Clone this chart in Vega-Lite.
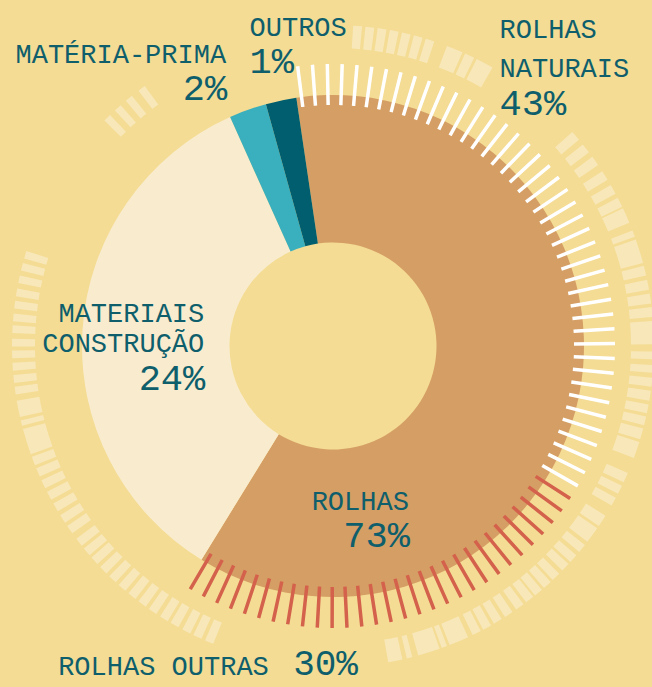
{
"$schema":"https://vega.github.io/schema/vega-lite/v6.json",
"width":638,"height":682,
"autosize":{"type":"none"},
"padding":{"left":14,"top":5,"right":0,"bottom":0},
"background":"#F4DC94",
"config":{"view":{"stroke":null},"text":{"font":"Liberation Mono","color":"#0E5E6C","baseline":"alphabetic"}},
"datasets":{
"fatias":[
{"grupo":"Rolhas","rotulo":"ROLHAS","quota":0.73},
{"grupo":"Materiais construção","rotulo":"MATERIAIS\nCONSTRUÇÃO","quota":0.24},
{"grupo":"Matéria-prima","rotulo":"MATÉRIA-PRIMA","quota":0.02},
{"grupo":"Outros","rotulo":"OUTROS","quota":0.01}
],
"rolhas":[
{"grupo":"Rolhas naturais","rotulo":"ROLHAS\nNATURAIS","quota":0.43},
{"grupo":"Rolhas outras","rotulo":"ROLHAS OUTRAS","quota":0.30}
],
"marcas":[
{"ponto":1,"tipo":"Rolhas naturais"},{"ponto":2,"tipo":"Rolhas naturais"},{"ponto":3,"tipo":"Rolhas naturais"},{"ponto":4,"tipo":"Rolhas naturais"},{"ponto":5,"tipo":"Rolhas naturais"},{"ponto":6,"tipo":"Rolhas naturais"},{"ponto":7,"tipo":"Rolhas naturais"},{"ponto":8,"tipo":"Rolhas naturais"},{"ponto":9,"tipo":"Rolhas naturais"},{"ponto":10,"tipo":"Rolhas naturais"},
{"ponto":11,"tipo":"Rolhas naturais"},{"ponto":12,"tipo":"Rolhas naturais"},{"ponto":13,"tipo":"Rolhas naturais"},{"ponto":14,"tipo":"Rolhas naturais"},{"ponto":15,"tipo":"Rolhas naturais"},{"ponto":16,"tipo":"Rolhas naturais"},{"ponto":17,"tipo":"Rolhas naturais"},{"ponto":18,"tipo":"Rolhas naturais"},{"ponto":19,"tipo":"Rolhas naturais"},{"ponto":20,"tipo":"Rolhas naturais"},
{"ponto":21,"tipo":"Rolhas naturais"},{"ponto":22,"tipo":"Rolhas naturais"},{"ponto":23,"tipo":"Rolhas naturais"},{"ponto":24,"tipo":"Rolhas naturais"},{"ponto":25,"tipo":"Rolhas naturais"},{"ponto":26,"tipo":"Rolhas naturais"},{"ponto":27,"tipo":"Rolhas naturais"},{"ponto":28,"tipo":"Rolhas naturais"},{"ponto":29,"tipo":"Rolhas naturais"},{"ponto":30,"tipo":"Rolhas naturais"},
{"ponto":31,"tipo":"Rolhas naturais"},{"ponto":32,"tipo":"Rolhas naturais"},{"ponto":33,"tipo":"Rolhas naturais"},{"ponto":34,"tipo":"Rolhas naturais"},{"ponto":35,"tipo":"Rolhas naturais"},{"ponto":36,"tipo":"Rolhas naturais"},{"ponto":37,"tipo":"Rolhas naturais"},{"ponto":38,"tipo":"Rolhas naturais"},{"ponto":39,"tipo":"Rolhas naturais"},{"ponto":40,"tipo":"Rolhas naturais"},
{"ponto":41,"tipo":"Rolhas naturais"},{"ponto":42,"tipo":"Rolhas naturais"},{"ponto":43,"tipo":"Rolhas naturais"},
{"ponto":44,"tipo":"Rolhas outras"},{"ponto":45,"tipo":"Rolhas outras"},{"ponto":46,"tipo":"Rolhas outras"},{"ponto":47,"tipo":"Rolhas outras"},{"ponto":48,"tipo":"Rolhas outras"},{"ponto":49,"tipo":"Rolhas outras"},{"ponto":50,"tipo":"Rolhas outras"},
{"ponto":51,"tipo":"Rolhas outras"},{"ponto":52,"tipo":"Rolhas outras"},{"ponto":53,"tipo":"Rolhas outras"},{"ponto":54,"tipo":"Rolhas outras"},{"ponto":55,"tipo":"Rolhas outras"},{"ponto":56,"tipo":"Rolhas outras"},{"ponto":57,"tipo":"Rolhas outras"},{"ponto":58,"tipo":"Rolhas outras"},{"ponto":59,"tipo":"Rolhas outras"},{"ponto":60,"tipo":"Rolhas outras"},
{"ponto":61,"tipo":"Rolhas outras"},{"ponto":62,"tipo":"Rolhas outras"},{"ponto":63,"tipo":"Rolhas outras"},{"ponto":64,"tipo":"Rolhas outras"},{"ponto":65,"tipo":"Rolhas outras"},{"ponto":66,"tipo":"Rolhas outras"},{"ponto":67,"tipo":"Rolhas outras"},{"ponto":68,"tipo":"Rolhas outras"},{"ponto":69,"tipo":"Rolhas outras"},{"ponto":70,"tipo":"Rolhas outras"},
{"ponto":71,"tipo":"Rolhas outras"},{"ponto":72,"tipo":"Rolhas outras"},{"ponto":73,"tipo":"Rolhas outras"}
],
"anel":[
{"ini":3.6,"fim":5.2},{"ini":5.8,"fim":7.4},{"ini":8.0,"fim":9.6},{"ini":10.2,"fim":11.8},{"ini":12.4,"fim":14.0},{"ini":14.6,"fim":16.2},{"ini":16.8,"fim":18.4},
{"ini":20.8,"fim":23.8},{"ini":24.3,"fim":26.1},{"ini":26.6,"fim":29.8},
{"ini":48.2,"fim":50.0},{"ini":51.1,"fim":52.9},{"ini":53.9,"fim":55.7},{"ini":57.0,"fim":58.8},{"ini":59.9,"fim":61.7},{"ini":62.5,"fim":64.3},{"ini":64.6,"fim":67.4},{"ini":68.9,"fim":70.1},{"ini":70.6,"fim":75.0},
{"ini":75.5,"fim":77.3},{"ini":78.1,"fim":79.9},{"ini":80.6,"fim":82.4},{"ini":83.0,"fim":84.8},{"ini":85.5,"fim":89.7},{"ini":91.0,"fim":92.4},{"ini":93.4,"fim":94.8},{"ini":95.7,"fim":97.3},{"ini":98.0,"fim":99.8},
{"ini":100.5,"fim":102.1},{"ini":102.7,"fim":104.3},{"ini":104.9,"fim":106.9},{"ini":107.4,"fim":110.4},{"ini":113.3,"fim":115.1},{"ini":115.8,"fim":117.4},{"ini":118.2,"fim":119.8},
{"ini":121.9,"fim":124.1},{"ini":124.6,"fim":127.6},{"ini":128.3,"fim":129.9},{"ini":130.7,"fim":132.3},{"ini":132.8,"fim":134.4},{"ini":135.2,"fim":136.8},{"ini":137.3,"fim":138.9},{"ini":139.4,"fim":141.0},
{"ini":141.4,"fim":143.0},{"ini":143.6,"fim":145.2},{"ini":146.0,"fim":147.6},{"ini":148.3,"fim":149.9},{"ini":150.5,"fim":152.1},{"ini":152.6,"fim":154.2},{"ini":155.1,"fim":158.7},{"ini":159.2,"fim":160.2},
{"ini":160.6,"fim":164.6},{"ini":165.7,"fim":166.7},{"ini":167.5,"fim":170.1},
{"ini":201.9,"fim":203.5},{"ini":204.2,"fim":205.8},{"ini":206.4,"fim":208.0},{"ini":208.8,"fim":210.4},{"ini":211.0,"fim":212.6},{"ini":213.4,"fim":215.0},{"ini":215.7,"fim":217.3},{"ini":218.0,"fim":219.6},
{"ini":220.3,"fim":221.9},{"ini":222.6,"fim":224.2},{"ini":224.9,"fim":226.5},{"ini":227.2,"fim":228.8},{"ini":229.3,"fim":230.9},{"ini":231.5,"fim":233.1},{"ini":234.3,"fim":235.9},{"ini":236.6,"fim":238.2},
{"ini":239.0,"fim":240.6},{"ini":241.4,"fim":243.0},{"ini":243.7,"fim":245.3},{"ini":246.0,"fim":247.6},{"ini":248.2,"fim":249.8},{"ini":250.3,"fim":255.0},{"ini":255.6,"fim":256.6},{"ini":257.2,"fim":260.2},
{"ini":261.3,"fim":262.7},{"ini":263.4,"fim":264.8},{"ini":265.6,"fim":267.0},{"ini":267.8,"fim":269.2},{"ini":269.9,"fim":271.3},{"ini":272.3,"fim":273.7},{"ini":274.4,"fim":275.8},{"ini":276.7,"fim":278.1},
{"ini":278.9,"fim":280.3},{"ini":281.3,"fim":282.7},{"ini":283.6,"fim":285.0},{"ini":285.8,"fim":287.2},
{"ini":314.6,"fim":316.0},{"ini":317.2,"fim":318.6},{"ini":319.8,"fim":321.2},{"ini":322.7,"fim":324.1}
]
},
"resolve":{"scale":{"theta":"independent"}},
"layer":[
{"data":{"name":"anel"},
 "mark":{"type":"arc","radius":321,"radius2":298,"color":"#F8E7B8"},
 "encoding":{"theta":{"field":"ini","type":"quantitative","stack":null,"scale":{"type":"linear","domain":[0,360],"range":[0,6.283185307],"zero":false,"nice":false}},"theta2":{"field":"fim"}}},
{"data":{"name":"fatias"},
 "mark":{"type":"arc","radius":251,"radius2":103.5},
 "encoding":{"theta":{"field":"quota","type":"quantitative","stack":true,"scale":{"type":"linear","domain":[0,0.73,0.97,0.99,1],"range":[-0.14661,3.69312,5.8608,6.01264,6.13656],"zero":false,"nice":false}},
  "order":{"field":"quota","sort":"descending"},
  "fill":{"field":"grupo","type":"nominal","legend":null,"scale":{"domain":["Rolhas","Materiais construção","Matéria-prima","Outros"],"range":["#D59E64","#F9ECCE","#3AAFBD","#005E6E"]}}}},
{"data":{"name":"marcas"},
 "mark":{"type":"arc","radius":282,"radius2":241,"filled":false,"strokeWidth":3.5,"strokeCap":"butt"},
 "encoding":{"theta":{"field":"ponto","type":"quantitative","stack":null,"scale":{"type":"linear","domain":[1,73],"range":[-0.12566,3.67218],"zero":false,"nice":false}},"theta2":{"field":"ponto"},
  "stroke":{"field":"tipo","type":"nominal","legend":null,"scale":{"domain":["Rolhas naturais","Rolhas outras"],"range":["#FFFFFF","#D4614B"]}}}},
{"data":{"name":"fatias"},"mark":{"type":"text","align":"left","radius":316,"dx":-18,"dy":-1,"fontSize":27},
 "encoding":{"theta":{"field":"quota","type":"quantitative","stack":true,"scale":{"type":"linear","domain":[0,0.73,0.97,0.99,1],"range":[-0.14661,3.69312,5.8608,6.01264,6.13656],"zero":false,"nice":false}},"order":{"field":"quota","sort":"descending"},
  "text":{"field":"rotulo","type":"nominal","condition":{"test":"datum.grupo !== 'Outros'","value":""}}}},
{"data":{"name":"fatias"},"mark":{"type":"text","align":"left","radius":316,"dx":-18,"dy":36,"fontSize":37},
 "encoding":{"theta":{"field":"quota","type":"quantitative","stack":true,"scale":{"type":"linear","domain":[0,0.73,0.97,0.99,1],"range":[-0.14661,3.69312,5.8608,6.01264,6.13656],"zero":false,"nice":false}},"order":{"field":"quota","sort":"descending"},
  "text":{"field":"quota","type":"quantitative","format":".0%","condition":{"test":"datum.grupo !== 'Outros'","value":""}}}},
{"data":{"name":"fatias"},"mark":{"type":"text","align":"right","radius":300,"dx":-5,"dy":-1,"fontSize":27},
 "encoding":{"theta":{"field":"quota","type":"quantitative","stack":true,"scale":{"type":"linear","domain":[0,0.73,0.97,0.99,1],"range":[-0.14661,3.69312,5.8608,6.01264,6.13656],"zero":false,"nice":false}},"order":{"field":"quota","sort":"descending"},
  "text":{"field":"rotulo","type":"nominal","condition":{"test":"datum.grupo !== 'Matéria-prima'","value":""}}}},
{"data":{"name":"fatias"},"mark":{"type":"text","align":"right","radius":300,"dx":-4,"dy":36,"fontSize":37},
 "encoding":{"theta":{"field":"quota","type":"quantitative","stack":true,"scale":{"type":"linear","domain":[0,0.73,0.97,0.99,1],"range":[-0.14661,3.69312,5.8608,6.01264,6.13656],"zero":false,"nice":false}},"order":{"field":"quota","sort":"descending"},
  "text":{"field":"quota","type":"quantitative","format":".0%","condition":{"test":"datum.grupo !== 'Matéria-prima'","value":""}}}},
{"data":{"name":"fatias"},"mark":{"type":"text","align":"right","radius":129,"dx":0,"dy":-16,"fontSize":27,"lineBreak":"\n","lineHeight":30},
 "encoding":{"theta":{"field":"quota","type":"quantitative","stack":true,"scale":{"type":"linear","domain":[0,0.73,0.97,0.99,1],"range":[-0.14661,3.69312,5.8608,6.01264,6.13656],"zero":false,"nice":false}},"order":{"field":"quota","sort":"descending"},
  "text":{"field":"rotulo","type":"nominal","condition":{"test":"datum.grupo !== 'Materiais construção'","value":""}}}},
{"data":{"name":"fatias"},"mark":{"type":"text","align":"right","radius":129,"dx":1,"dy":52,"fontSize":37},
 "encoding":{"theta":{"field":"quota","type":"quantitative","stack":true,"scale":{"type":"linear","domain":[0,0.73,0.97,0.99,1],"range":[-0.14661,3.69312,5.8608,6.01264,6.13656],"zero":false,"nice":false}},"order":{"field":"quota","sort":"descending"},
  "text":{"field":"quota","type":"quantitative","format":".0%","condition":{"test":"datum.grupo !== 'Materiais construção'","value":""}}}},
{"data":{"name":"fatias"},"mark":{"type":"text","align":"right","radius":104,"dx":-26,"dy":143,"fontSize":27},
 "encoding":{"theta":{"field":"quota","type":"quantitative","stack":true,"scale":{"type":"linear","domain":[0,0.73,0.97,0.99,1],"range":[-0.14661,3.69312,5.8608,6.01264,6.13656],"zero":false,"nice":false}},"order":{"field":"quota","sort":"descending"},
  "text":{"field":"rotulo","type":"nominal","condition":{"test":"datum.grupo !== 'Rolhas'","value":""}}}},
{"data":{"name":"fatias"},"mark":{"type":"text","align":"right","radius":104,"dx":-25,"dy":180,"fontSize":37},
 "encoding":{"theta":{"field":"quota","type":"quantitative","stack":true,"scale":{"type":"linear","domain":[0,0.73,0.97,0.99,1],"range":[-0.14661,3.69312,5.8608,6.01264,6.13656],"zero":false,"nice":false}},"order":{"field":"quota","sort":"descending"},
  "text":{"field":"quota","type":"quantitative","format":".0%","condition":{"test":"datum.grupo !== 'Rolhas'","value":""}}}},
{"data":{"name":"rolhas"},"mark":{"type":"text","align":"left","radius":200,"dx":0,"dy":-197,"fontSize":27,"lineBreak":"\n","lineHeight":39},
 "encoding":{"theta":{"field":"quota","type":"quantitative","stack":true,"scale":{"type":"linear","domain":[0,0.73,0.97,0.99,1],"range":[-0.14661,3.69312,5.8608,6.01264,6.13656],"zero":false,"nice":false}},"order":{"field":"quota","sort":"descending"},
  "text":{"field":"rotulo","type":"nominal","condition":{"test":"datum.grupo !== 'Rolhas naturais'","value":""}}}},
{"data":{"name":"rolhas"},"mark":{"type":"text","align":"left","radius":200,"dx":0,"dy":-120,"fontSize":37},
 "encoding":{"theta":{"field":"quota","type":"quantitative","stack":true,"scale":{"type":"linear","domain":[0,0.73,0.97,0.99,1],"range":[-0.14661,3.69312,5.8608,6.01264,6.13656],"zero":false,"nice":false}},"order":{"field":"quota","sort":"descending"},
  "text":{"field":"quota","type":"quantitative","format":".0%","condition":{"test":"datum.grupo !== 'Rolhas naturais'","value":""}}}},
{"data":{"name":"rolhas"},"mark":{"type":"text","align":"left","radius":260,"dx":-336,"dy":76,"fontSize":27},
 "encoding":{"theta":{"field":"quota","type":"quantitative","stack":true,"scale":{"type":"linear","domain":[0,0.73,0.97,0.99,1],"range":[-0.14661,3.69312,5.8608,6.01264,6.13656],"zero":false,"nice":false}},"order":{"field":"quota","sort":"descending"},
  "text":{"field":"rotulo","type":"nominal","condition":{"test":"datum.grupo !== 'Rolhas outras'","value":""}}}},
{"data":{"name":"rolhas"},"mark":{"type":"text","align":"left","radius":260,"dx":-101,"dy":76,"fontSize":36},
 "encoding":{"theta":{"field":"quota","type":"quantitative","stack":true,"scale":{"type":"linear","domain":[0,0.73,0.97,0.99,1],"range":[-0.14661,3.69312,5.8608,6.01264,6.13656],"zero":false,"nice":false}},"order":{"field":"quota","sort":"descending"},
  "text":{"field":"quota","type":"quantitative","format":".0%","condition":{"test":"datum.grupo !== 'Rolhas outras'","value":""}}}}
]
}
